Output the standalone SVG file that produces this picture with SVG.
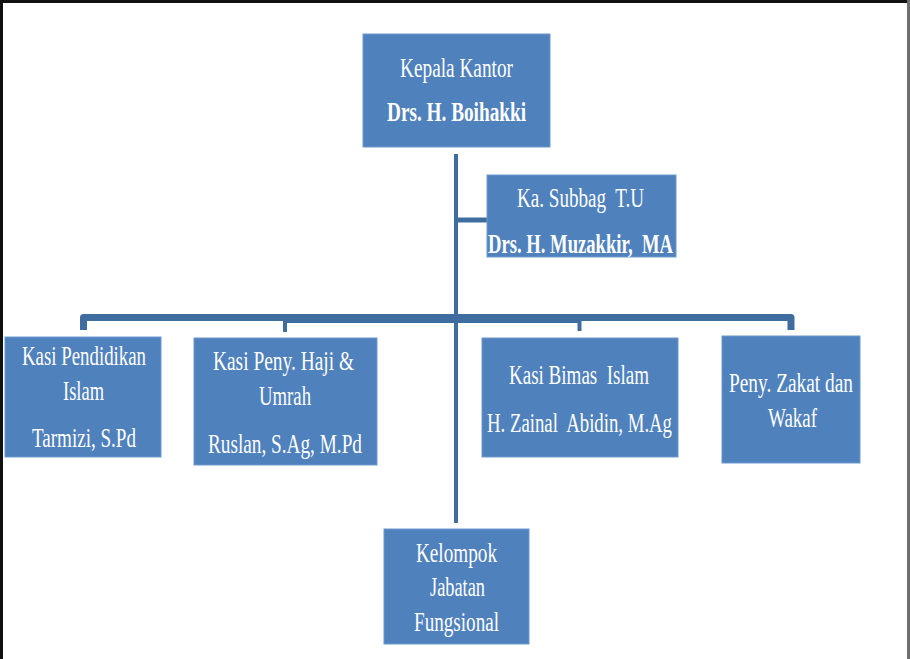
<svg xmlns="http://www.w3.org/2000/svg" width="910" height="659" viewBox="0 0 910 659">
<style>
.box{fill:#4F81BD;stroke:#6E98CB;stroke-width:1}
.t{font-family:"Liberation Serif","Times New Roman",serif;font-size:27px;fill:#ffffff;text-anchor:start}
.b{font-weight:bold}
.c{stroke:#3F6D9F;fill:none;stroke-linejoin:round}
</style>
<rect x="0" y="0" width="910" height="659" fill="#ffffff"/>
<g id="frame">
<rect x="0" y="0" width="910" height="3" fill="#111111"/>
<rect x="0" y="0" width="3" height="659" fill="#111111"/>
<rect x="907" y="0" width="3" height="659" fill="#6f6f6f"/>
</g>
<g id="connectors">
<line class="c" x1="456" y1="154" x2="456" y2="523" stroke-width="4"/>
<line class="c" x1="456" y1="220" x2="487" y2="220" stroke-width="5"/>
<path class="c" d="M83.5,330 V317.5 H791 V330" stroke-width="7"/>
<rect x="285" y="314" width="295" height="9" fill="#3F6D9F"/>
<line class="c" x1="285" y1="317" x2="285" y2="332" stroke-width="4"/>
<line class="c" x1="579.5" y1="317" x2="579.5" y2="331" stroke-width="4"/>
</g>
<g id="kepala">
<rect class="box" x="363" y="34" width="187" height="113"/>
<text class="t" x="400" y="77" textLength="113" lengthAdjust="spacingAndGlyphs">Kepala Kantor</text>
<text class="t b" x="387" y="121" textLength="139" lengthAdjust="spacingAndGlyphs">Drs. H. Boihakki</text>
</g>
<g id="subbag">
<rect class="box" x="487" y="175" width="189" height="82"/>
<text class="t" x="517" y="207" textLength="127" lengthAdjust="spacingAndGlyphs" xml:space="preserve">Ka. Subbag  T.U</text>
<text class="t b" x="488" y="253" textLength="185" lengthAdjust="spacingAndGlyphs" xml:space="preserve">Drs. H. Muzakkir,  MA</text>
</g>
<g id="pendidikan">
<rect class="box" x="5" y="337" width="156" height="120"/>
<text class="t" x="22" y="365" textLength="124" lengthAdjust="spacingAndGlyphs">Kasi Pendidikan</text>
<text class="t" x="63" y="400" textLength="41" lengthAdjust="spacingAndGlyphs">Islam</text>
<text class="t" x="32" y="447" textLength="104" lengthAdjust="spacingAndGlyphs">Tarmizi, S.Pd</text>
</g>
<g id="haji">
<rect class="box" x="194" y="338" width="183" height="127"/>
<text class="t" x="213" y="370" textLength="141" lengthAdjust="spacingAndGlyphs">Kasi Peny. Haji &amp;</text>
<text class="t" x="259" y="405" textLength="52" lengthAdjust="spacingAndGlyphs">Umrah</text>
<text class="t" x="208" y="453" textLength="154" lengthAdjust="spacingAndGlyphs">Ruslan, S.Ag, M.Pd</text>
</g>
<g id="bimas">
<rect class="box" x="482" y="338" width="196" height="119"/>
<text class="t" x="509" y="384" textLength="140" lengthAdjust="spacingAndGlyphs" xml:space="preserve">Kasi Bimas  Islam</text>
<text class="t" x="487" y="432" textLength="185" lengthAdjust="spacingAndGlyphs" xml:space="preserve">H. Zainal  Abidin, M.Ag</text>
</g>
<g id="zakat">
<rect class="box" x="722" y="336" width="138" height="127"/>
<text class="t" x="729" y="392" textLength="124" lengthAdjust="spacingAndGlyphs">Peny. Zakat dan</text>
<text class="t" x="768" y="427" textLength="49" lengthAdjust="spacingAndGlyphs">Wakaf</text>
</g>
<g id="fungsional">
<rect class="box" x="384" y="529" width="145" height="115"/>
<text class="t" x="416" y="562" textLength="81" lengthAdjust="spacingAndGlyphs">Kelompok</text>
<text class="t" x="430" y="596" textLength="55" lengthAdjust="spacingAndGlyphs">Jabatan</text>
<text class="t" x="414" y="631" textLength="85" lengthAdjust="spacingAndGlyphs">Fungsional</text>
</g>
</svg>
